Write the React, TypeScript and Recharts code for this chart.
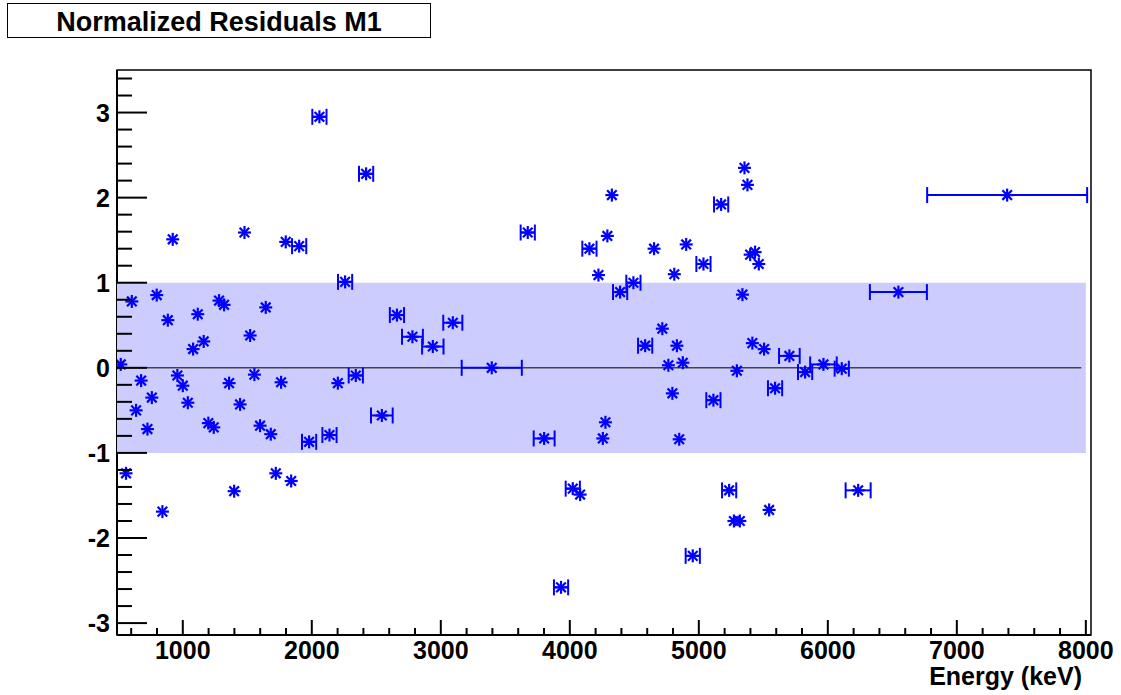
import {
  ScatterChart,
  Scatter,
  XAxis,
  YAxis,
  ErrorBar,
  ReferenceArea,
  ReferenceLine,
} from "recharts";

const energies = [
  519, 560, 605, 638, 677, 726, 760, 798, 842, 884, 922, 958, 1000, 1039, 1080, 1116,
  1162, 1198, 1240, 1281, 1320, 1359, 1398, 1444, 1478, 1522, 1555, 1599, 1643, 1682,
  1721, 1762, 1798, 1840, 1902, 1979, 2059, 2137, 2202, 2258, 2341, 2421, 2543, 2660,
  2780, 2938, 3093, 3395, 3674, 3801, 3932, 4023, 4080, 4152, 4222, 4256, 4276, 4291,
  4326, 4390, 4493, 4584, 4653, 4717, 4764, 4795, 4810, 4830, 4848, 4876, 4902, 4953,
  5036, 5113, 5173, 5235, 5272, 5295, 5318, 5338, 5354, 5377, 5398, 5415, 5436, 5465,
  5506, 5545, 5591, 5702, 5824, 5966, 6108, 6235, 6547, 7390,
];

const residuals = [
  0.04, -1.24, 0.78, -0.5, -0.15, -0.72, -0.35, 0.855, -1.69, 0.56, 1.51, -0.09, -0.21,
  -0.41, 0.22, 0.63, 0.31, -0.65, -0.7, 0.79, 0.74, -0.18, -1.45, -0.43, 1.59, 0.38,
  -0.08, -0.68, 0.71, -0.78, -1.24, -0.17, 1.48, -1.33, 1.43, -0.87, 2.95, -0.79, -0.18,
  1.01, -0.09, 2.28, -0.56, 0.62, 0.365, 0.25, 0.53, 0.0, 1.59, -0.83, -2.58, -1.42,
  -1.49, 1.4, 1.09, -0.83, -0.64, 1.55, 2.03, 0.89, 1.0, 0.26, 1.4, 0.46, 0.03, -0.3,
  1.1, 0.26, -0.84, 0.06, 1.45, -2.21, 1.22, -0.38, 1.92, -1.44, -1.8, -0.035, -1.8,
  0.86, 2.35, 2.15, 1.33, 0.29, 1.36, 1.22, 0.22, -1.67, -0.24, 0.14, -0.05, 0.04, -0.01,
  -1.44, 0.89, 2.03,
];

const energyErrors = [
  0, 0, 0, 0, 0, 0, 0, 0, 0, 0, 0, 0, 0, 0, 0, 0,
  0, 0, 0, 0, 0, 0, 0, 0, 0, 0, 0, 0, 0, 0,
  0, 0, 0, 0, 55, 55, 55, 55, 0, 55, 55, 55, 84, 55,
  81, 83, 74, 233, 55, 81, 55, 55, 0, 55, 0, 0, 0, 0,
  0, 55, 55, 55, 0, 0, 0, 0, 0, 0, 0, 0, 0, 55,
  55, 55, 55, 55, 0, 0, 0, 0, 0, 0, 0, 0, 0, 0,
  0, 0, 55, 80, 55, 103, 55, 97, 221, 620,
];

const xMajorTicks = [1000, 2000, 3000, 4000, 5000, 6000, 7000, 8000];
const yMajorTicks = [-3, -2, -1, 0, 1, 2, 3];

const X_DOMAIN: [number, number] = [490, 8040];
const Y_DOMAIN: [number, number] = [-3.14, 3.5];
const BAND = [-1, 1];

const data = energies.map((e, i) => ({
  energy: e,
  residual: residuals[i],
  err: energyErrors[i],
}));

// minor ticks: 5 subdivisions between majors, kept inside the frame
const xTicks: number[] = [];
for (let v = 600; v <= 8000; v += 200) xTicks.push(v);
const yTicks: number[] = [];
for (let k = -15; k <= 17; k++) yTicks.push(Math.round(k * 0.2 * 10) / 10);

const FONT = "'Liberation Sans', Arial, Helvetica, sans-serif";
const BLUE = "#0000ff";

const isMajor = (v: number, majors: number[]) => majors.some((m) => Math.abs(m - v) < 1e-6);

function XTick({ x, y, payload }: any) {
  const v = payload.value;
  const major = isMajor(v, xMajorTicks);
  return (
    <g>
      <line x1={x} x2={x} y1={y} y2={y - (major ? 15 : 7)} stroke="#000" strokeWidth={2} />
      {major && (
        <text x={x} y={y + 24} textAnchor="middle" fontFamily={FONT} fontWeight="bold" fontSize={25} fill="#000">
          {v}
        </text>
      )}
    </g>
  );
}

function YTick({ x, y, payload }: any) {
  const v = payload.value;
  const major = isMajor(v, yMajorTicks);
  return (
    <g>
      <line x1={x} x2={x + (major ? 30 : 15)} y1={y} y2={y} stroke="#000" strokeWidth={2} />
      {major && (
        <text x={x - 7} y={y + 9} textAnchor="end" fontFamily={FONT} fontWeight="bold" fontSize={25} fill="#000">
          {v}
        </text>
      )}
    </g>
  );
}

function Asterisk({ cx, cy }: any) {
  if (cx == null || cy == null) return null;
  const r = 6.5;
  const d = 4.8;
  return (
    <g stroke={BLUE} strokeWidth={2.2}>
      <line x1={cx - r} x2={cx + r} y1={cy} y2={cy} />
      <line x1={cx} x2={cx} y1={cy - r} y2={cy + r} />
      <line x1={cx - d} x2={cx + d} y1={cy - d} y2={cy + d} />
      <line x1={cx - d} x2={cx + d} y1={cy + d} y2={cy - d} />
    </g>
  );
}

export default function App() {
  return (
    <div style={{ position: "absolute", left: 0, top: 0, width: 1121, height: 695, background: "#fff" }}>
      <div
        style={{
          position: "absolute",
          left: 7,
          top: 3,
          width: 422,
          height: 33,
          border: "1px solid #000",
          textAlign: "center",
          fontFamily: FONT,
          fontWeight: "bold",
          fontSize: 27,
          lineHeight: "36px",
          boxSizing: "content-box",
        }}
      >
        Normalized Residuals M1
      </div>
      <ScatterChart width={1121} height={695} margin={{ top: 70, right: 30, bottom: 0, left: 17 }}>
        <XAxis
          type="number"
          dataKey="energy"
          domain={X_DOMAIN}
          allowDataOverflow
          ticks={xTicks}
          interval={0}
          tickSize={0}
          tickMargin={0}
          tickLine={false}
          height={60}
          axisLine={{ stroke: "#000", strokeWidth: 2 }}
          tick={<XTick />}
        />
        <YAxis
          type="number"
          dataKey="residual"
          domain={Y_DOMAIN}
          allowDataOverflow
          ticks={yTicks}
          interval={0}
          tickSize={0}
          tickMargin={0}
          tickLine={false}
          width={100}
          axisLine={{ stroke: "#000", strokeWidth: 2 }}
          tick={<YTick />}
        />
        <ReferenceArea
          x1={X_DOMAIN[0] + 0.01}
          x2={8000}
          y1={BAND[0]}
          y2={BAND[1]}
          fill="#ccccff"
          fillOpacity={1}
          stroke="none"
          zIndex={550}
        />
        <ReferenceLine
          segment={[
            { x: X_DOMAIN[0], y: 0 },
            { x: 7965, y: 0 },
          ]}
          stroke="#444"
          strokeWidth={1.5}
          zIndex={560}
        />
        <ReferenceArea
          x1={X_DOMAIN[0]}
          x2={X_DOMAIN[1]}
          y1={Y_DOMAIN[0]}
          y2={Y_DOMAIN[1]}
          fill="none"
          stroke="#000"
          strokeWidth={1.5}
        />
        <Scatter data={data} isAnimationActive={false} shape={<Asterisk />} zIndex={700}>
          <ErrorBar dataKey="err" direction="x" width={8} stroke={BLUE} strokeWidth={2} zIndex={700} />
        </Scatter>
      </ScatterChart>
      <div
        style={{
          position: "absolute",
          left: 0,
          top: 664,
          width: 1082,
          textAlign: "right",
          fontFamily: FONT,
          fontWeight: "bold",
          fontSize: 25,
          lineHeight: "25px",
        }}
      >
        Energy (keV)
      </div>
    </div>
  );
}
